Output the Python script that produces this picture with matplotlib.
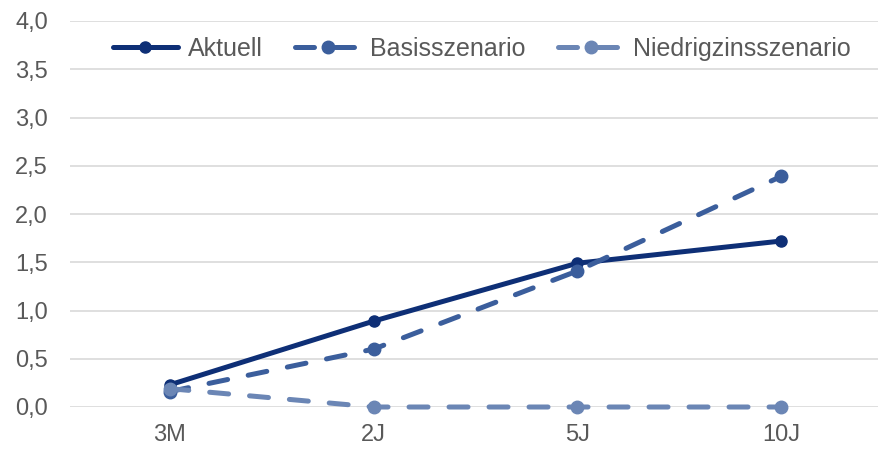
import matplotlib
matplotlib.use("Agg")
import matplotlib.pyplot as plt

plt.rcParams['font.family'] = ['Liberation Sans', 'DejaVu Sans']

categories = ["3M", "2J", "5J", "10J"]
aktuell = [0.23, 0.89, 1.49, 1.72]
basis = [0.16, 0.60, 1.41, 2.39]
niedrig = [0.19, 0.00, 0.00, 0.00]
y_ticks = [0.0, 0.5, 1.0, 1.5, 2.0, 2.5, 3.0, 3.5, 4.0]

c_akt = '#0E2F76'
c_bas = '#3B5E9C'
c_nie = '#6B86B5'
grey = '#595959'

fig = plt.figure(figsize=(8.79, 4.51), dpi=100)
ax = fig.add_axes([70 / 879, 1 - 407 / 451, 809 / 879, 386 / 451])

x = range(len(categories))
ax.plot(x, aktuell, color=c_akt, lw=3.6, marker='o', ms=8,
        solid_capstyle='round', label='Aktuell', clip_on=False, zorder=3)
ax.plot(x, basis, color=c_bas, lw=3.6, marker='o', ms=9, dashes=(3.8, 4.2),
        dash_capstyle='round', label='Basisszenario', clip_on=False, zorder=4)
ax.plot(x, niedrig, color=c_nie, lw=3.6, marker='o', ms=9, dashes=(3.8, 4.2),
        dash_capstyle='round', label='Niedrigzinsszenario', clip_on=False, zorder=5)

ax.set_xlim(-0.49, 3.48)
ax.set_ylim(0, 4)
ax.set_xticks(list(x))
ax.set_xticklabels(categories)
ax.set_yticks(y_ticks)
ax.set_yticklabels([f"{v:.1f}".replace('.', ',') for v in y_ticks])
ax.tick_params(axis='both', length=0, labelsize=17, labelcolor=grey)
ax.tick_params(axis='y', pad=16)
ax.tick_params(axis='x', pad=12)

ax.grid(axis='y', color='#D9D9D9', lw=1.2)
ax.set_axisbelow(True)
for s in ax.spines.values():
    s.set_visible(False)

leg = ax.legend(loc='center', bbox_to_anchor=(0.509, 0.927), ncol=3, frameon=False,
                fontsize=18, handlelength=2.6, handletextpad=0.4,
                columnspacing=1.3)
for t in leg.get_texts():
    t.set_color(grey)

fig.savefig("out.png", dpi=100, facecolor='white')
